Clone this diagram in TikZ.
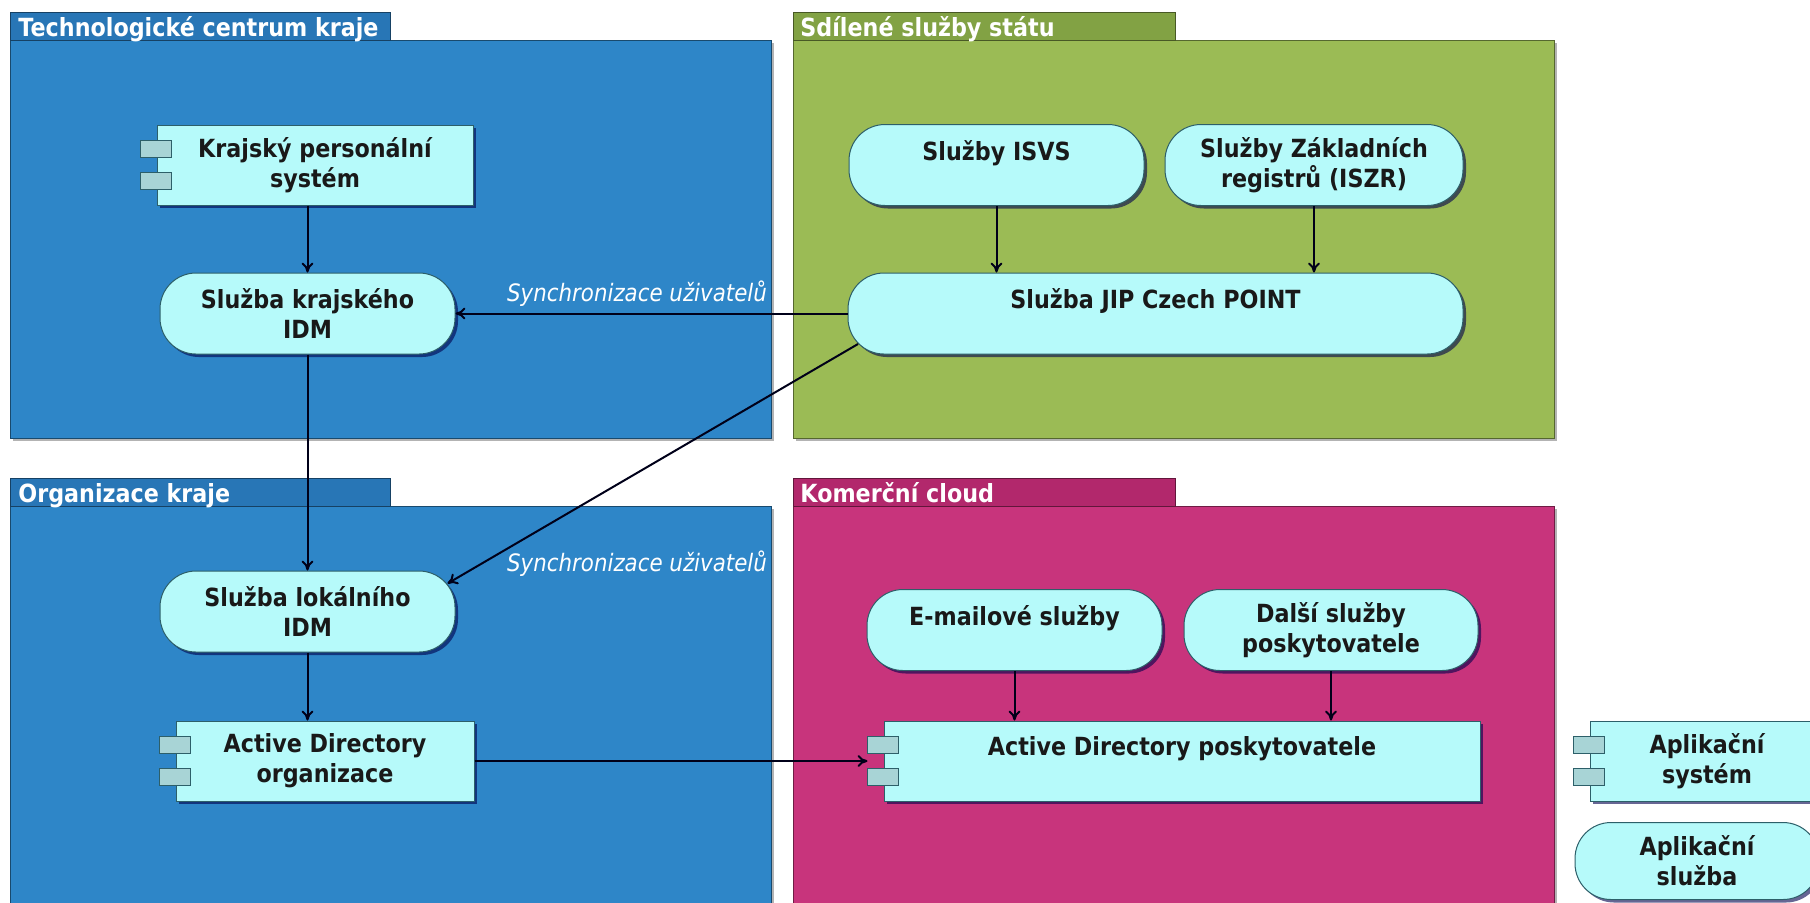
\documentclass[tikz,border=0pt]{standalone}
\usepackage{fontspec}
\setmainfont{DejaVu Sans}[FakeStretch=0.89,BoldFont={DejaVu Sans Bold},ItalicFont={DejaVu Sans Oblique}]
\usetikzlibrary{shadows,arrows.meta}

\definecolor{krajblue}{RGB}{46,134,200}
\definecolor{krajtab}{RGB}{40,118,182}
\definecolor{statgreen}{RGB}{155,187,85}
\definecolor{stattab}{RGB}{130,162,68}
\definecolor{cloudpink}{RGB}{200,52,124}
\definecolor{cloudtab}{RGB}{178,40,108}
\definecolor{nodecyan}{RGB}{182,250,250}
\definecolor{tickcyan}{RGB}{168,212,214}
\definecolor{edgeteal}{RGB}{45,95,105}

\tikzset{
  % group frames
  grpbody/.style={fill=#1,draw=#1!55!black,line width=0.5pt,
    drop shadow={shadow xshift=1.5pt,shadow yshift=-1.5pt,fill=black!50,opacity=.6}},
  grptab/.style={fill=#1,draw=#1!55!black,line width=0.5pt},
  grptitle/.style={anchor=base west,text=white,inner sep=0pt,
    font=\bfseries\fontsize{12.5}{15}\selectfont},
  % application nodes
  appbox/.style={draw=edgeteal,fill=nodecyan,line width=0.5pt,align=center,
    font=\bfseries\fontsize{12.5}{15}\selectfont,text=black!90,inner sep=0pt,
    drop shadow={shadow xshift=1.5pt,shadow yshift=-1.5pt,fill=black!70!blue,opacity=.6}},
  appsys/.style={appbox,minimum width=#1,minimum height=40pt},
  appsvc/.style={appbox,rounded corners=18pt,minimum width=#1,minimum height=40.5pt},
  tickbox/.style={draw=edgeteal,fill=tickcyan,line width=0.5pt},
  flow/.style={draw=black!90!blue,line width=1pt,-{To[length=5pt,width=6pt]}},
  synclabel/.style={text=white,inner sep=0pt,font=\itshape\fontsize{12}{14}\selectfont}
}

% two small rectangles on the left side of a system node
\newcommand\systicks[1]{%
  \draw[tickbox] ([shift={(-16,-24.5)}]#1.west) rectangle ++(31,17);
  \draw[tickbox] ([shift={(-16,7.5)}]#1.west) rectangle ++(31,17);
}

\begin{document}
\begin{tikzpicture}[x=0.5pt,y=-0.5pt]
\useasboundingbox (0,0) rectangle (1810,902);

% groups
\path[grpbody=krajblue] (10,40) rectangle (771,438);
\path[grptab=krajtab] (10,12) rectangle (390,40);
\node[grptitle] (tctitle) at (18,36) {Technologické centrum kraje};

\path[grpbody=statgreen] (793,40) rectangle (1554,438);
\path[grptab=stattab] (793,12) rectangle (1175,40);
\node[grptitle] (sstitle) at (800,36) {Sdílené služby státu};

\path[grpbody=krajblue] (10,506) rectangle (771,930);
\path[grptab=krajtab] (10,478) rectangle (390,506);
\node[grptitle] (oktitle) at (18,502) {Organizace kraje};

\path[grpbody=cloudpink] (793,506) rectangle (1554,930);
\path[grptab=cloudtab] (793,478) rectangle (1175,506);
\node[grptitle] (kctitle) at (800,502) {Komerční cloud};

% nodes
\node[appsys=158pt] (krajsky) at (315,165) {Krajský personální\\systém};
\node[appsvc=147.5pt] (idmk) at (307.5,313.5) {Služba krajského\\IDM};
\node[appsvc=147.5pt] (isvs) at (996.5,165) {Služby ISVS\\~};
\node[appsvc=149pt] (iszr) at (1314,165) {Služby Základních\\registrů (ISZR)};
\node[appsvc=307.5pt] (jip) at (1155.5,313.5) {Služba JIP Czech POINT\\~};
\node[appsvc=147.5pt] (idml) at (307.5,611.5) {Služba lokálního\\IDM};
\node[appsys=149pt] (ado) at (325,761) {Active Directory\\organizace};
\node[appsvc=147.5pt] (email) at (1014.5,630) {E-mailové služby\\~};
\node[appsvc=147pt] (dalsi) at (1331,630) {Další služby\\poskytovatele};
\node[appsys=298pt] (adp) at (1182,761) {Active Directory poskytovatele\\~};
\node[appsys=117pt] (legsys) at (1707,761) {Aplikační\\systém};
\node[appsvc=122pt,minimum height=38.5pt] (legsvc) at (1697,861) {Aplikační\\služba};

\systicks{krajsky}
\systicks{ado}
\systicks{adp}
\systicks{legsys}

% connectors
\draw[flow] (krajsky.south -| idmk.north) -- (idmk.north);
\draw[flow] (idmk) -- (idml);
\draw[flow] (idml.south) -- (idml.south |- ado.north);
\draw[flow] (isvs) -- (isvs |- jip.north);
\draw[flow] (iszr) -- (iszr |- jip.north);
\draw[flow] (jip) -- (idmk);
\draw[flow] ([shift={(10.5,-10.5)}]jip.south west) -- ([shift={(-8,13)}]idml.north east);
\draw[flow] (email) -- (email |- adp.north);
\draw[flow] (dalsi) -- (dalsi |- adp.north);
\draw[flow] (ado) -- ([xshift=-8pt]adp.west);

\node[synclabel] (sync1) at (637,294) {Synchronizace uživatelů};
\node[synclabel] (sync2) at (637,564) {Synchronizace uživatelů};
\end{tikzpicture}
\end{document}
